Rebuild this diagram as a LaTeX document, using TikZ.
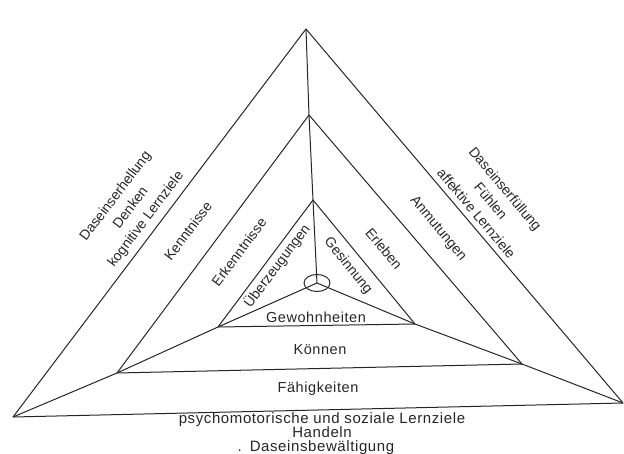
\documentclass[tikz,border=0pt]{standalone}
\usepackage{fontspec}
\setmainfont{Liberation Sans}
\begin{document}
\begin{tikzpicture}[x=1pt,y=-1pt,
  edge/.style={line width=1pt, draw=black!85, line join=round},
  lbl/.style={font=\fontsize{14}{19}\selectfont, align=center, inner sep=0pt, text=black!85},
  flat/.style={font=\fontsize{14.5}{14}\selectfont\addfontfeature{LetterSpace=4}, align=center, inner sep=0pt, text=black!85},
  base/.style={font=\fontsize{15}{14}\selectfont\addfontfeature{LetterSpace=4}, align=center, inner sep=0pt, text=black!85},
]
\useasboundingbox (0,0) rectangle (624,454);

% corner points of the three nested triangles and the centre
\coordinate (oA) at (306,29);
\coordinate (oL) at (13,417);
\coordinate (oR) at (623,403);
\coordinate (mA) at (309,115);
\coordinate (mL) at (117,373);
\coordinate (mR) at (522,364);
\coordinate (iA) at (313,200);
\coordinate (iL) at (218,327);
\coordinate (iR) at (415,324);
\coordinate (c) at (317,283);

% triangles
\draw[edge] (oA) -- (oL) -- (oR) -- cycle;
\draw[edge] (mA) -- (mL) -- (mR) -- cycle;
\draw[edge] (iA) -- (iL) -- (iR) -- cycle;

% spokes from the corners to the centre
\draw[edge] (oA) -- (mA) -- (iA) -- (c);
\draw[edge] (oL) -- (mL) -- (iL) -- (c);
\draw[edge] (oR) -- (mR) -- (iR) -- (c);
\draw[edge] (c) ellipse [x radius=13, y radius=8.5];

% cognitive side
\node[lbl, rotate=53] (kog) at (131,208) {Daseinserhellung\\Denken\\kognitive Lernziele};
\node[lbl, rotate=53] (kenn) at (188,231) {Kenntnisse};
\node[lbl, rotate=53] (erk) at (239,252) {Erkenntnisse};
\node[lbl, rotate=53] (ueb) at (277,266) {Überzeugungen};

% affective side
\node[lbl, rotate=-50] (aff) at (491,201) {Daseinserfüllung\\Fühlen\\affektive Lernziele};
\node[lbl, rotate=-50] (anm) at (438,229) {Anmutungen};
\node[lbl, rotate=-50] (erl) at (384,249) {Erleben};
\node[lbl, rotate=-51] (ges) at (348,266) {Gesinnung};

% psychomotor side
\node[flat] (gew) at (316,317) {Gewohnheiten};
\node[flat] (koe) at (320,350) {Können};
\node[flat] (fae) at (318,389) {Fähigkeiten};
\node[base, anchor=north] (psy) at (322,412) {psychomotorische und soziale Lernziele\\Handeln\\\llap{.\hspace{8pt}}Daseinsbewältigung};
\end{tikzpicture}
\end{document}
